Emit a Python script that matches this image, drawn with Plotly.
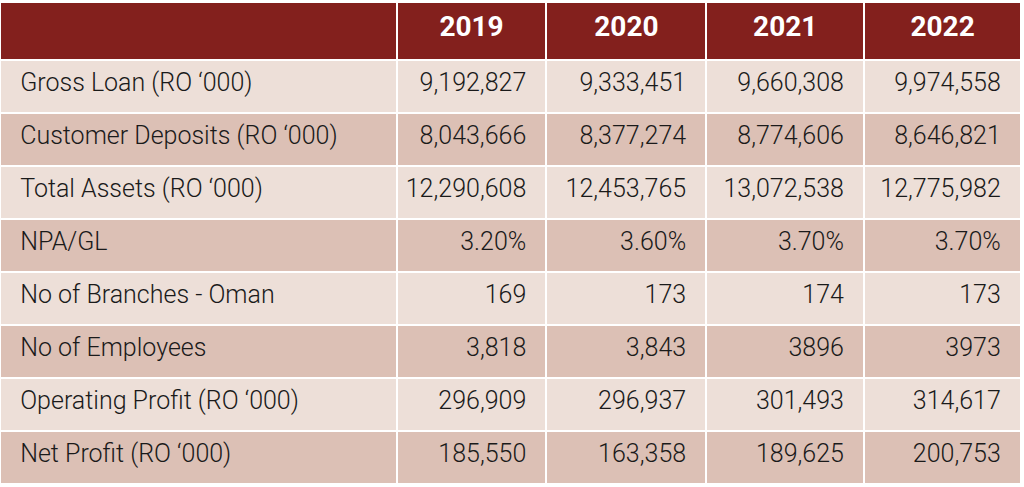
import plotly.graph_objects as go

years = ["2019", "2020", "2021", "2022"]
metrics = [
    "Gross Loan (RO ‘000)",
    "Customer Deposits (RO ‘000)",
    "Total Assets (RO ‘000)",
    "NPA/GL",
    "No of Branches - Oman",
    "No of Employees",
    "Operating Profit (RO ‘000)",
    "Net Profit (RO ‘000)",
]
v2019 = ["9,192,827", "8,043,666", "12,290,608", "3.20%", "169", "3,818", "296,909", "185,550"]
v2020 = ["9,333,451", "8,377,274", "12,453,765", "3.60%", "173", "3,843", "296,937", "163,358"]
v2021 = ["9,660,308", "8,774,606", "13,072,538", "3.70%", "174", "3896", "301,493", "189,625"]
v2022 = ["9,974,558", "8,646,821", "12,775,982", "3.70%", "173", "3973", "314,617", "200,753"]

HEADER = "#83201D"
LIGHT = "#EDDFD8"
DARK = "#DCC0B5"
FONT = "Roboto, sans-serif"
NB = "\u00a0"

row_fill = [LIGHT if i % 2 == 0 else DARK for i in range(len(metrics))]


def hcell(t):
    return f"<br><span style='font-size:28px;baseline-shift:-7px'>{t}</span>"


def label(t):
    # non-breaking spaces keep each label on one line, with left inset
    return f"<br><span style='font-size:25px;baseline-shift:-3px'>{NB * 2}{t.replace(' ', NB)}</span>"


def num(t):
    return f"<br><span style='font-size:25px;baseline-shift:-3px'>{t}{NB * 2}</span>"


header_vals = [""] + [hcell(y) for y in years]
cell_vals = [[label(m) for m in metrics]] + [[num(v) for v in col] for col in (v2019, v2020, v2021, v2022)]

fig = go.Figure(go.Table(
    columnwidth=[397, 150, 160, 158, 157],
    header=dict(
        values=header_vals,
        fill_color=HEADER,
        line=dict(color="white", width=2),
        align="center",
        font=dict(family=FONT, size=19, color="white", weight="bold"),
        height=58,
    ),
    cells=dict(
        values=cell_vals,
        fill_color=[row_fill] * 5,
        line=dict(color="white", width=2),
        align=["left", "right", "right", "right", "right"],
        font=dict(family=FONT, size=13, color="#1a1a1a", weight=300),
        height=53,
    ),
    domain=dict(x=[0, 0.998], y=[0, 1]),
))
fig.update_layout(
    width=1024, height=487,
    margin=dict(l=0, r=0, t=2, b=1),
    paper_bgcolor="white",
)
fig.write_html("out.html", config={"displayModeBar": False},
               post_script="document.body.style.margin='0';")
